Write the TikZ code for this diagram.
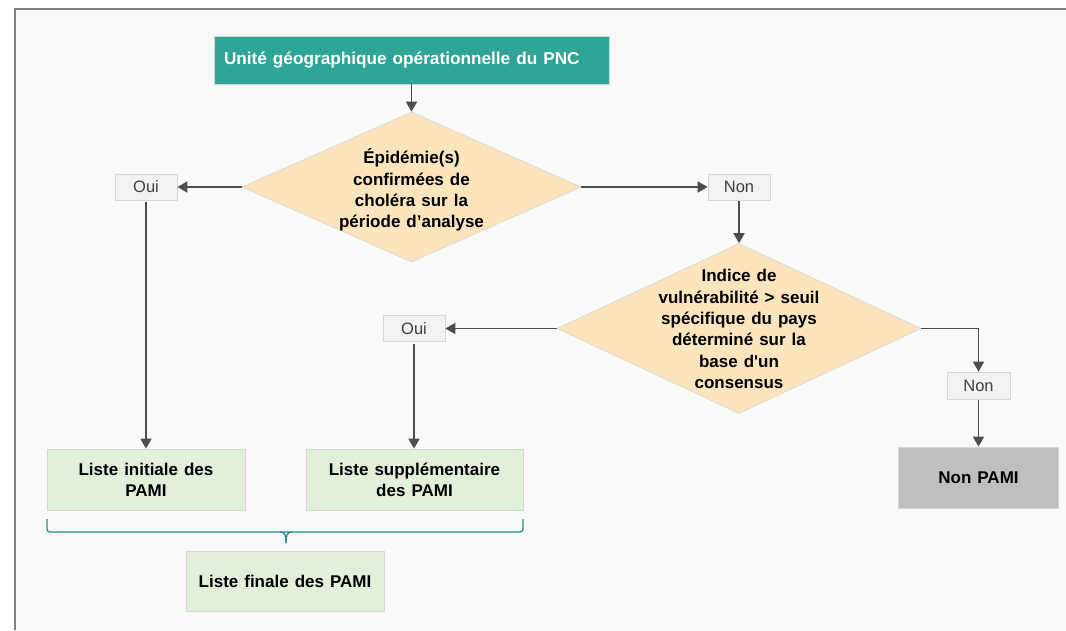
\documentclass[tikz,border=0pt]{standalone}
\usepackage{fontspec}
\setmainfont{Liberation Sans}[Ligatures=TeXOff]
\usetikzlibrary{arrows.meta,shapes.geometric}
\definecolor{tealbox}{HTML}{2EA597}
\definecolor{bgc}{HTML}{F9F9F7}
\definecolor{framec}{HTML}{7F7F7F}
\definecolor{diac}{HTML}{FCE5BD}
\definecolor{greenc}{HTML}{E2EFDA}
\definecolor{grayc}{HTML}{BFBFBF}
\definecolor{lblc}{HTML}{F2F2F2}
\definecolor{arrc}{HTML}{4D4D4F}
\definecolor{bracec}{HTML}{2B8C88}
\definecolor{edgec}{HTML}{D6D6D6}
\newcommand{\mywidesp}{\spaceskip=6pt plus 1pt\relax}
\begin{document}
\begin{tikzpicture}[x=1pt,y=-1pt,
  boxtxt/.style={font=\fontsize{17}{21.3}\selectfont\bfseries, text=black, align=center,
     execute at begin node=\mywidesp},
  topbox/.style={fill=tealbox, draw=edgec, line width=0.8pt, text=white,
     font=\fontsize{17.2}{21}\selectfont\bfseries, execute at begin node=\mywidesp},
  dia/.style={diamond, fill=diac, draw=edgec, line width=0.6pt, inner sep=0pt},
  lbl/.style={fill=lblc, draw=edgec, line width=0.8pt, inner sep=0pt,
     font=\fontsize{16.5}{19}\selectfont, text=black!75},
  greenbox/.style={fill=greenc, draw=edgec, line width=0.8pt, inner sep=0pt, boxtxt},
  graybox/.style={fill=grayc, draw=edgec, line width=0.8pt, inner sep=0pt, boxtxt},
  arr/.style={draw=arrc, line width=1.8pt, -{Triangle[length=10pt,width=11pt]}},
  brc/.style={draw=bracec, line width=1.3pt}
]
\useasboundingbox (0,0) rectangle (1066,630);
\fill[white] (0,0) rectangle (1066,630);
\fill[bgc] (15,9) rectangle (1066,630);
\draw[framec, line width=2pt] (15,630) -- (15,9) -- (1066,9);

% nodes
\node[topbox, text width=375pt, inner xsep=10pt, inner ysep=0pt, minimum height=48pt, align=left] (top) at (411.5,60) {Unité géographique opérationnelle du PNC};

\node[dia, minimum width=339pt, minimum height=150pt] (d1) at (411.5,187) {};
\node[boxtxt] (d1t) at (411.5,190) {Épidémie(s)\\confirmées de\\choléra sur la\\période d’analyse};

\node[lbl, minimum width=62pt, minimum height=26pt] (oui1) at (146,187) {Oui};
\node[lbl, minimum width=62pt, minimum height=26pt] (non1) at (739,187) {Non};

\node[dia, minimum width=364pt, minimum height=170pt] (d2) at (739,328.5) {};
\node[boxtxt] (d2t) at (739,329) {Indice de\\vulnérabilité > seuil\\spécifique du pays\\déterminé sur la\\base d'un\\consensus};

\node[lbl, minimum width=62pt, minimum height=26pt] (oui2) at (414,328.5) {Oui};
\node[lbl, minimum width=63pt, minimum height=27pt] (non3) at (978.5,385.5) {Non};

\node[graybox, minimum width=160pt, minimum height=61pt] (nonpami) at (978.5,477.5) {Non PAMI};
\node[greenbox, minimum width=198pt, minimum height=61pt] (li) at (146,479.5) {Liste initiale des\\PAMI};
\node[greenbox, minimum width=217pt, minimum height=61pt] (ls) at (414.5,479.5) {Liste supplémentaire\\des PAMI};
\node[greenbox, minimum width=198pt, minimum height=60pt] (lf) at (285,581) {Liste finale des PAMI};

% connectors
\draw[arr] (top.south) -- (d1.north);
\draw[arr] (d1.west) -- (oui1.east);
\draw[arr] (d1.east) -- (non1.west);
\draw[arr] ([yshift=-1pt]non1.south) -- (d2.north);
\draw[arr] (d2.west) -- (oui2.east);
\draw[arr] (d2.east) -| (non3.north);
\draw[arr] ([yshift=-1pt]non3.south) -- (nonpami.north);
\draw[arr] ([yshift=-2pt]oui1.south) -- (li.north);
\draw[arr] ([yshift=-2pt]oui2.south) -- (oui2.south |- ls.north);

% brace
\coordinate (bl) at (47,519);
\coordinate (br) at (523,519);
\coordinate (bm) at (286,543);
\draw[brc, rounded corners=3pt] (bl) -- (47,532) -- (523,532) -- (br);
\draw[brc] (280,532) .. controls (285,532) and (286,535) .. (bm);
\draw[brc] (292,532) .. controls (287,532) and (286,535) .. (bm);
\end{tikzpicture}
\end{document}
